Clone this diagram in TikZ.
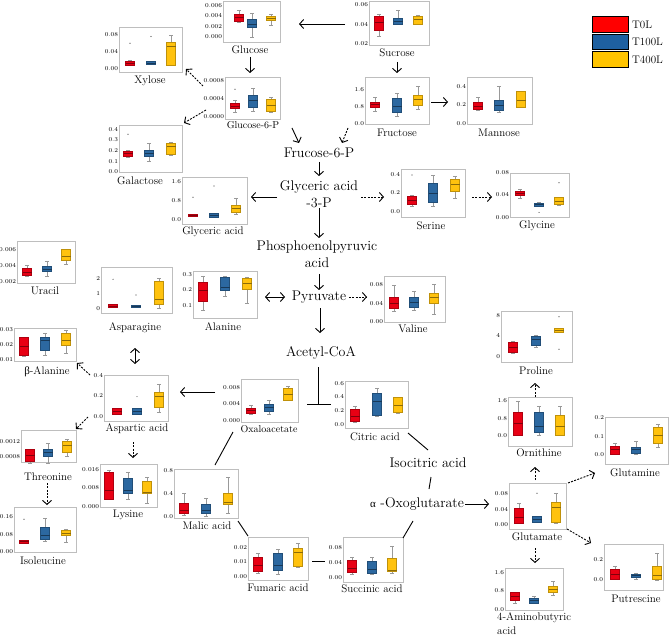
\documentclass[tikz,border=0pt]{standalone}
\usepackage{fontspec}
\newfontfamily\grk{Liberation Serif}
\usetikzlibrary{arrows.meta,fit}
\definecolor{cR}{RGB}{232,0,20}
\definecolor{cB}{RGB}{44,104,160}
\definecolor{cY}{RGB}{255,194,14}
\definecolor{frm}{RGB}{190,190,190}
\definecolor{lgR}{RGB}{255,0,0}
\definecolor{lgB}{RGB}{30,96,160}
\definecolor{lgY}{RGB}{255,196,0}
\tikzset{
 frame/.style={draw=frm, line width=0.8pt, inner sep=0pt},
 tick/.style={anchor=east, inner sep=0.5pt, font=\fontsize{6}{6}\selectfont},
 lab/.style={inner sep=1pt, font=\fontsize{11}{14}\selectfont},
 labs/.style={inner sep=1pt, font=\fontsize{10}{12}\selectfont},
 met/.style={inner sep=1pt, align=center, font=\fontsize{14}{17}\selectfont},
 whisk/.style={draw=gray!80, line width=0.35pt},
 dot/.style={circle, fill=black!75, inner sep=0pt, minimum size=1.2pt},
 arr/.style={-{Straight Barb[length=4pt,width=9pt]}, line width=0.9pt},
 dbl/.style={{Straight Barb[length=4pt,width=9pt]}-{Straight Barb[length=4pt,width=9pt]}, line width=0.9pt},
 darr/.style={arr, dash pattern=on 2pt off 1.3pt},
 ln/.style={line width=0.9pt},
 legbox/.style={draw=black, line width=0.6pt, minimum width=36pt, minimum height=15.5pt, inner sep=0pt},
 legtxt/.style={anchor=west, inner sep=0pt, font=\fontsize{11}{13}\selectfont},
}
\newcommand\panel[9]{%
  \node[frame, fit={(#2,#3) (#4,#5)}] (#1) {};
  \begin{scope}[shift={(0,#6)}, yscale=-#7]
    \foreach \v/\t in {#8}{\node[tick] (#1t\v) at (#2-0.3,\v) {\t};}
    #9
  \end{scope}}
\newcommand\bx[7]{%
  \draw[whisk] (#1,#2) -- (#1,#6) (#1-1.8,#2) -- (#1+1.8,#2) (#1-1.8,#6) -- (#1+1.8,#6);
  \filldraw[fill=#7, draw=#7!75!black, line width=0.35pt] (#1-4.5,#3) rectangle (#1+4.5,#5);
  \draw[#7!55!black, line width=0.4pt] (#1-4.5,#4) -- (#1+4.5,#4);}
\newcommand\od[2]{\node[dot] at (#1,#2) {};}
\begin{document}
\begin{tikzpicture}[x=1pt,y=-1pt]
\useasboundingbox (0,0) rectangle (669,636);
% ---------------- panels
\panel{glc}{223}{1}{280}{42}{36.7}{10.5}{0/0.000,1/0.002,2/0.004,3/0.006}{%
\bx{239}{1.43}{1.52}{1.9}{2.16}{2.54}{cR}
\bx{252}{0}{0.86}{1.2}{1.66}{2.23}{cB}
\bx{271}{1.1}{1.59}{1.8}{2.0}{2.16}{cY}}
\node[lab] (glcL) at (250,50) {Glucose};
\panel{suc}{369}{1}{429}{45}{63.5}{19.5}{1/0.02,2/0.04,3/0.06}{%
\bx{379}{1.41}{1.72}{2.13}{2.45}{2.54}{cR}
\bx{398}{2.01}{2.03}{2.18}{2.32}{2.74}{cB}
\bx{418}{2.01}{2.03}{2.26}{2.45}{2.49}{cY}}
\node[lab] (sucL) at (397,53) {Sucrose};
\panel{gsp}{225}{77}{280}{119}{117}{18}{0/0.0000,1/0.0004,2/0.0008}{%
\bx{235}{0.28}{0.48}{0.6}{0.79}{0.94}{cR}\od{235}{1.54}
\bx{253}{0.35}{0.57}{0.95}{1.22}{1.6}{cB}
\bx{271}{0.26}{0.35}{0.67}{0.98}{1.1}{cY}}
\node[labs] (gspL) at (253,125) {Glucose-6-P};
\panel{xyl}{119}{27}{182}{72}{68.3}{16.7}{0/0.00,1/0.04,2/0.08}{%
\bx{130}{0.2}{0.2}{0.32}{0.44}{0.5}{cR}\od{130}{1.5}
\bx{151}{0.26}{0.26}{0.33}{0.4}{0.4}{cB}\od{151}{1.9}
\bx{171}{0.16}{0.16}{1.3}{1.56}{2.0}{cY}}
\node[lab] (xylL) at (150,81) {Xylose};
\panel{gal}{119}{125}{182}{172}{171.7}{10.6}{0/0.0,1/0.1,2/0.2,3/0.3,4/0.4}{%
\bx{128}{1.36}{1.42}{1.76}{1.95}{2.05}{cR}\od{128}{3.53}
\bx{149}{0.98}{1.42}{1.7}{2.05}{2.68}{cB}
\bx{171}{1.58}{1.64}{2.36}{2.68}{2.83}{cY}}
\node[lab] (galL) at (140,181) {Galactose};
\panel{gla}{182}{177}{247}{224}{220}{19.2}{0/0.0,1/0.8,2/1.6}{%
\bx{193}{0.21}{0.21}{0.26}{0.31}{0.31}{cR}\od{193}{1.18}
\bx{214}{0.14}{0.14}{0.26}{0.38}{0.38}{cB}\od{214}{1.77}
\bx{236}{0.3}{0.4}{0.62}{0.78}{1.13}{cY}}
\node[lab] (glaL) at (213,232) {Glyceric acid};
\panel{ala}{193}{271}{257}{318}{321.4}{15.7}{1/0.1,2/0.2,3/0.3}{%
\bx{203}{0.73}{1.32}{2.0}{2.49}{2.89}{cR}
\bx{225}{1.62}{1.96}{2.21}{2.81}{2.87}{cB}
\bx{247}{1.15}{2.06}{2.45}{2.78}{2.81}{cY}}
\node[lab] (alaL) at (223,327) {Alanine};
\panel{asn}{101}{267}{172}{313}{308.3}{15}{0/0,1/1,2/2}{%
\bx{113}{0.07}{0.07}{0.15}{0.29}{0.29}{cR}\od{113}{1.93}
\bx{136}{0.07}{0.07}{0.15}{0.22}{0.22}{cB}\od{136}{0.89}
\bx{159}{0}{0.29}{0.6}{1.84}{2.0}{cY}}
\node[lab] (asnL) at (135,328) {Asparagine};
\panel{ura}{17}{241}{75}{283}{297.9}{16.2}{1/0.002,2/0.004,3/0.006}{%
\bx{27}{1.35}{1.41}{1.6}{1.83}{2.03}{cR}
\bx{47}{1.35}{1.62}{1.8}{1.93}{2.28}{cB}
\bx{66}{2.07}{2.3}{2.59}{3.0}{3.02}{cY}}
\node[lab] (uraL) at (45,291) {Uracil};
\panel{bal}{14}{328}{76}{361}{374}{14.7}{1/0.01,2/0.02,3/0.03}{%
\bx{24}{1.18}{1.29}{1.9}{2.5}{2.53}{cR}
\bx{45}{1.29}{1.59}{2.27}{2.5}{2.81}{cB}
\bx{66}{1.41}{1.97}{2.27}{2.81}{2.95}{cY}}
\node[lab] (balL) at (47,372) {{\grk β}-Alanine};
\panel{asp}{104}{375}{168}{421}{416.3}{20.3}{0/0.0,1/0.2,2/0.4}{%
\bx{117}{0.11}{0.11}{0.25}{0.39}{0.39}{cR}
\bx{137}{0.11}{0.11}{0.25}{0.39}{0.39}{cB}\od{137}{0.97}
\bx{159}{0.2}{0.47}{0.97}{1.18}{1.59}{cY}}
\node[lab] (aspL) at (137,429) {Aspartic acid};
\panel{oaa}{241}{379}{298}{422}{420.7}{16.7}{0/0.000,1/0.004,2/0.008}{%
\bx{251}{0.38}{0.44}{0.6}{0.78}{0.9}{cR}
\bx{269}{0.38}{0.58}{0.82}{1.0}{1.24}{cB}
\bx{288}{1.2}{1.24}{1.58}{1.94}{2.08}{cY}}
\node[labs] (oaaL) at (269,429) {Oxaloacetate};
\panel{cit}{345}{381}{408}{428}{424.3}{13.7}{0/0.0,1/0.2,2/0.4,3/0.6}{%
\bx{355}{0.19}{0.26}{0.6}{1.09}{1.34}{cR}
\bx{377}{0.6}{0.68}{1.72}{2.26}{2.63}{cB}
\bx{398}{0.8}{0.85}{1.41}{1.97}{1.97}{cY}}
\node[lab] (citL) at (375,437) {Citric acid};
\panel{thr}{21}{430}{76}{462}{486.7}{15}{2/0.0008,3/0.0012}{%
\bx{30}{1.56}{1.71}{2.1}{2.49}{2.49}{cR}
\bx{48}{1.56}{2.05}{2.27}{2.49}{2.89}{cB}
\bx{67}{2.05}{2.33}{2.8}{3.05}{3.16}{cY}}
\node[lab] (thrL) at (48,477) {Threonine};
\panel{lys}{100}{464}{157}{507}{506.7}{18.7}{0/0.000,1/0.008,2/0.016}{%
\bx{109}{0.4}{0.4}{0.9}{1.87}{1.93}{cR}
\bx{128}{0.4}{0.72}{0.9}{1.52}{1.84}{cB}
\bx{147}{0.21}{0.72}{0.8}{1.34}{1.57}{cY}}
\node[lab] (lysL) at (128,515) {Lysine};
\panel{mal}{174}{469}{238}{518}{516.7}{23.3}{0/0.0,1/0.4,2/0.8}{%
\bx{184}{0.07}{0.15}{0.3}{0.57}{1.0}{cR}
\bx{206}{0.04}{0.15}{0.3}{0.55}{0.79}{cB}
\bx{228}{0.17}{0.53}{0.64}{1.03}{1.69}{cY}}
\node[lab] (malL) at (207,526) {Malic acid};
\panel{ile}{14}{507}{76}{552}{551.7}{17.5}{0/0.00,1/0.08,2/0.16}{%
\bx{24}{0.51}{0.51}{0.58}{0.67}{0.67}{cR}\od{24}{1.85}
\bx{45}{0.61}{0.71}{0.95}{1.43}{1.94}{cB}
\bx{66}{0.54}{0.94}{1.08}{1.24}{1.27}{cY}}
\node[lab] (ileL) at (43,561) {Isoleucine};
\panel{fum}{248}{537}{308}{580}{576.7}{14.7}{0/0.00,1/0.01,2/0.02}{%
\bx{258}{0.23}{0.39}{0.8}{1.36}{1.63}{cR}
\bx{278}{0.16}{0.46}{0.8}{1.59}{1.88}{cB}
\bx{298}{0.68}{0.75}{1.7}{1.93}{2.27}{cY}}
\node[lab] (fumL) at (278,588) {Fumaric acid};
\panel{sca}{343}{537}{403}{582}{577.3}{15}{0/0.00,1/0.04,2/0.08}{%
\bx{352}{0.22}{0.31}{0.6}{1.15}{1.37}{cR}
\bx{372}{0.2}{0.27}{0.53}{1.1}{1.33}{cB}
\bx{392}{0.27}{0.44}{0.49}{1.27}{2.09}{cY}}
\node[lab] (scaL) at (372,589) {Succinic acid};
\panel{val}{384}{276}{445}{322}{321.3}{18.2}{0/0.00,1/0.04,2/0.08}{%
\bx{394}{0.53}{0.71}{1.0}{1.35}{1.96}{cR}
\bx{414}{0.62}{0.8}{1.04}{1.35}{1.66}{cB}
\bx{434}{0.4}{0.99}{1.35}{1.54}{2.05}{cY}}
\node[lab] (valL) at (413,329) {Valine};
\panel{ser}{401}{169}{465}{217}{211.7}{18.8}{0/0.0,1/0.2,2/0.4}{%
\bx{412}{0.3}{0.41}{0.6}{0.85}{0.9}{cR}\od{412}{1.95}
\bx{433}{0.27}{0.5}{0.98}{1.51}{1.95}{cB}
\bx{455}{0.71}{1.1}{1.47}{1.72}{1.9}{cY}}
\node[lab] (serL) at (431,226) {Serine};
\panel{gly}{510}{173}{569}{217}{217.3}{22.3}{0/0.00,1/0.04,2/0.08}{%
\bx{520}{0.85}{0.97}{1.08}{1.18}{1.26}{cR}
\bx{539}{0.52}{0.52}{0.58}{0.63}{0.67}{cB}\od{539}{0.22}
\bx{559}{0.55}{0.58}{0.7}{0.88}{0.92}{cY}\od{559}{1.55}}
\node[lab] (glyL) at (537,226) {Glycine};
\panel{fru}{365}{77}{429}{124}{123.3}{17}{0/0.0,1/0.8,2/1.6}{%
\bx{375}{0.72}{0.92}{1.1}{1.27}{1.56}{cR}
\bx{397}{0.43}{0.68}{0.98}{1.5}{1.76}{cB}
\bx{418}{0.82}{1.08}{1.41}{1.66}{2.21}{cY}}
\node[lab] (fruL) at (397,133) {Fructose};
\panel{man}{467}{77}{532}{124}{123.3}{18.3}{0/0.0,1/0.2,2/0.4}{%
\bx{478}{0.73}{0.77}{0.95}{1.15}{1.45}{cR}
\bx{499}{0.6}{0.69}{1.0}{1.24}{2.04}{cB}
\bx{521}{0.87}{0.87}{1.27}{1.73}{1.78}{cY}}
\node[lab] (manL) at (499,133) {Mannose};
\panel{pro}{501}{311}{572}{362}{356.7}{20.8}{0/0,1/4,2/8}{%
\bx{513}{0.16}{0.24}{0.45}{0.69}{0.77}{cR}
\bx{536}{0.45}{0.56}{0.84}{1.0}{1.04}{cB}
\bx{559}{1.2}{1.2}{1.28}{1.37}{1.37}{cY}\od{559}{1.92}\od{559}{0.36}}
\node[lab] (proL) at (536,371) {Proline};
\panel{orn}{508}{397}{572}{446}{436}{17.7}{0/0.0,1/0.8,2/1.6}{%
\bx{518}{0.02}{0.02}{0.7}{1.34}{1.94}{cR}
\bx{539}{0.06}{0.19}{0.56}{1.37}{1.69}{cB}
\bx{560}{0.06}{0.06}{0.56}{1.19}{1.66}{cY}}
\node[lab] (ornL) at (539,453) {Ornithine};
\panel{gln}{605}{417}{668}{464}{455}{18.8}{0/0.0,1/0.1,2/0.2}{%
\bx{615}{0.05}{0.05}{0.3}{0.49}{0.65}{cR}
\bx{636}{0.05}{0.12}{0.3}{0.44}{0.71}{cB}
\bx{658}{0.41}{0.62}{1.06}{1.47}{1.65}{cY}}
\node[lab] (glnL) at (635,473) {Glutamine};
\panel{glu}{509}{483}{566}{529}{525}{15.5}{0/0.00,1/0.04,2/0.08}{%
\bx{519}{0.11}{0.11}{0.5}{1.08}{1.4}{cR}
\bx{537}{0.17}{0.21}{0.4}{0.54}{0.6}{cB}\od{537}{2.05}
\bx{556}{0.11}{0.21}{1.18}{1.46}{2.05}{cY}}
\node[lab] (gluL) at (537,537) {Glutamate};
\panel{gab}{505}{568}{563}{610}{609.3}{18.3}{0/0.0,1/0.8,2/1.6}{%
\bx{515}{0.33}{0.51}{0.7}{0.91}{0.96}{cR}
\bx{534}{0.33}{0.36}{0.5}{0.63}{0.72}{cB}
\bx{553}{0.78}{0.96}{1.1}{1.27}{1.55}{cY}}
\node[lab, anchor=north west, align=left] (gabL) at (496,611) {4-Aminobutyric\\acid};
\panel{put}{604}{544}{663}{590}{580}{20.7}{0/0.0,1/0.2}{%
\bx{615}{0.03}{0.03}{0.3}{0.52}{0.68}{cR}
\bx{636}{0.03}{0.16}{0.22}{0.29}{0.32}{cB}
\bx{657}{0}{0.03}{0.24}{0.68}{1.32}{cY}}
\node[lab] (putL) at (636,599) {Putrescine};
% ---------------- central metabolites
\node[met] (F6P) at (319,153) {Frucose-6-P};
\node[met] (G3P) at (319,194.5) {Glyceric acid\\-3-P};
\node[met] (PEP) at (317,254.5) {Phosphoenolpyruvic\\acid};
\node[met] (Pyr) at (319,297) {Pyruvate};
\node[met] (ACoA) at (321,353) {Acetyl-CoA};
\node[met] (Iso) at (428,463) {Isocitric acid};
\node[met] (aKG) at (417,504) {{\grk\fontsize{11}{13}\selectfont α} -Oxoglutarate};
% ---------------- connector end points
\coordinate (c1a) at (345,24);  \coordinate (c1b) at (299,24);
\coordinate (c2a) at (250,57);  \coordinate (c2b) at (250,73);
\coordinate (c3a) at (397,62);  \coordinate (c3b) at (397,73);
\coordinate (c4a) at (431,102); \coordinate (c4b) at (448,102);
\coordinate (c5a) at (203,86);  \coordinate (c5b) at (186,69);
\coordinate (c6a) at (206,110); \coordinate (c6b) at (184,123);
\coordinate (c7a) at (292,128); \coordinate (c7b) at (299,143);
\coordinate (c8a) at (348,128); \coordinate (c8b) at (342,143);
\coordinate (c9a) at (319,162); \coordinate (c9b) at (319,176);
\coordinate (c10a) at (277,197); \coordinate (c10b) at (251,197);
\coordinate (c11a) at (361,197); \coordinate (c11b) at (384,197);
\coordinate (c12a) at (472,197); \coordinate (c12b) at (492,197);
\coordinate (c13a) at (319,208); \coordinate (c13b) at (319,238);
\coordinate (c14a) at (319,274); \coordinate (c14b) at (319,290);
\coordinate (c15a) at (285,297); \coordinate (c15b) at (265,297);
\coordinate (c16a) at (349,297); \coordinate (c16b) at (367,297);
\coordinate (c17a) at (320,308); \coordinate (c17b) at (320,333);
\coordinate (t1) at (318,367); \coordinate (t2) at (318,404.5);
\coordinate (t3) at (307,404.5); \coordinate (t4) at (331,404.5);
\coordinate (c19a) at (215,392); \coordinate (c19b) at (180,392);
\coordinate (c20a) at (135,348); \coordinate (c20b) at (135,364);
\coordinate (c21a) at (90,375);  \coordinate (c21b) at (77,363);
\coordinate (c22a) at (88,417);  \coordinate (c22b) at (76,429);
\coordinate (c23a) at (133,442); \coordinate (c23b) at (133,458);
\coordinate (c24a) at (47,483);  \coordinate (c24b) at (47,505);
\coordinate (c25a) at (233,432); \coordinate (c25b) at (215,465);
\coordinate (c26a) at (238,521); \coordinate (c26b) at (248,536);
\coordinate (c27a) at (312,561); \coordinate (c27b) at (325,561);
\coordinate (c28a) at (403,538); \coordinate (c28b) at (413,521);
\coordinate (c29a) at (431,477); \coordinate (c29b) at (429,489);
\coordinate (c30a) at (408,433); \coordinate (c30b) at (428,450);
\coordinate (c31a) at (465,504); \coordinate (c31b) at (489,504);
\coordinate (c32a) at (535,480); \coordinate (c32b) at (535,467);
\coordinate (c33a) at (535,397); \coordinate (c33b) at (535,383);
\coordinate (c34a) at (568,483); \coordinate (c34b) at (595,473);
\coordinate (c35a) at (567,529); \coordinate (c35b) at (591,543);
\coordinate (c36a) at (535,548); \coordinate (c36b) at (535,563);
% ---------------- connectors
\draw[arr] (c1a) -- (c1b);
\draw[arr] (c2a) -- (c2b);
\draw[arr] (c3a) -- (c3b);
\draw[arr] (c4a) -- (c4b);
\draw[darr] (c5a) -- (c5b);
\draw[darr] (c6a) -- (c6b);
\draw[arr] (c7a) -- (c7b);
\draw[darr] (c8a) -- (c8b);
\draw[arr] (c9a) -- (c9b);
\draw[arr] (c10a) -- (c10b);
\draw[darr] (c11a) -- (c11b);
\draw[darr] (c12a) -- (c12b);
\draw[arr] (c13a) -- (c13b);
\draw[arr] (c14a) -- (c14b);
\draw[dbl] (c15a) -- (c15b);
\draw[darr] (c16a) -- (c16b);
\draw[arr] (c17a) -- (c17b);
\draw[ln] (t1) -- (t2) (t3) -- (t4);
\draw[arr] (c19a) -- (c19b);
\draw[dbl] (c20a) -- (c20b);
\draw[darr] (c21a) -- (c21b);
\draw[darr] (c22a) -- (c22b);
\draw[darr] (c23a) -- (c23b);
\draw[darr] (c24a) -- (c24b);
\draw[ln] (c25a) -- (c25b);
\draw[ln] (c26a) -- (c26b);
\draw[ln] (c27a) -- (c27b);
\draw[ln] (c28a) -- (c28b);
\draw[ln] (c29a) -- (c29b);
\draw[ln] (c30a) -- (c30b);
\draw[arr] (c31a) -- (c31b);
\draw[darr] (c32a) -- (c32b);
\draw[darr] (c33a) -- (c33b);
\draw[darr] (c34a) -- (c34b);
\draw[darr] (c35a) -- (c35b);
\draw[darr] (c36a) -- (c36b);
% ---------------- legend
\node[legbox, fill=lgR] (lg1) at (610,24.5) {};
\node[legbox, fill=lgB] (lg2) at (610,42) {};
\node[legbox, fill=lgY] (lg3) at (610,59.5) {};
\node[legtxt] (lt1) at (632,24.5) {T0L};
\node[legtxt] (lt2) at (632,42) {T100L};
\node[legtxt] (lt3) at (632,59.5) {T400L};
\end{tikzpicture}
\end{document}
